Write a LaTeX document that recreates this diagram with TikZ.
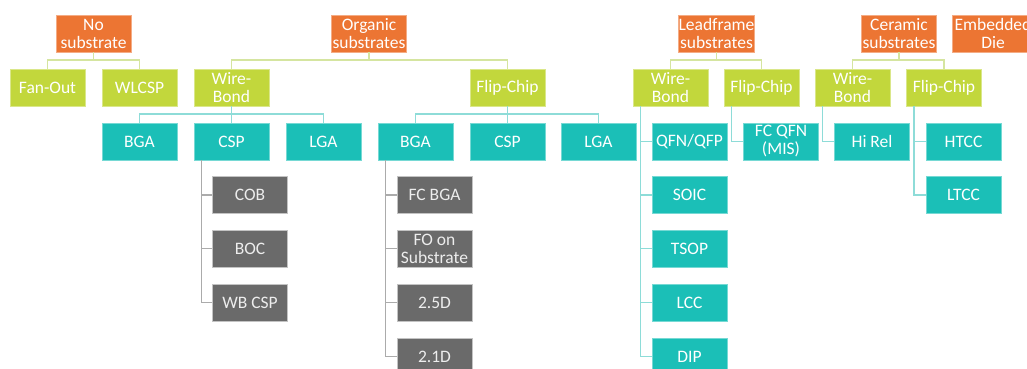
\documentclass[tikz,border=0pt]{standalone}
\usepackage{fontspec}
\setmainfont{Carlito}
\definecolor{orng}{HTML}{EC7533}
\definecolor{lime}{HTML}{C2D73C}
\definecolor{teal}{HTML}{1BBFB7}
\definecolor{dgray}{HTML}{6A6A6A}
\definecolor{limeline}{HTML}{D5E5A0}
\definecolor{tealline}{HTML}{8EDCD8}
\definecolor{grayline}{HTML}{ABABAB}
\tikzset{
  box/.style={minimum width=75pt, minimum height=37pt, inner sep=0pt, align=center,
    text=white, font=\fontsize{17.5}{18}\selectfont, line width=0.8pt},
  obox/.style={box, fill=orng, draw=orng!60!white},
  lbox/.style={box, fill=lime, draw=lime!60!white},
  tbox/.style={box, fill=teal, draw=teal!60!white},
  gbox/.style={box, fill=dgray, draw=dgray!40!white, text=white!93!black},
  lcon/.style={draw=limeline, line width=1.5pt},
  tcon/.style={draw=tealline, line width=1.5pt},
  gcon/.style={draw=grayline, line width=1.5pt},
}
\begin{document}
\begin{tikzpicture}[x=1pt,y=-1pt]
\clip (0,0) rectangle (1027,369);
\fill[white] (0,0) rectangle (1027,369);
% row 0
\node[obox] (nosub) at (93.5,33.5) {No\\substrate};
\node[obox] (org) at (369,33.5) {Organic\\substrates};
\node[obox] (lead) at (716.5,33.5) {Leadframe\\substrates};
\node[obox] (cer) at (899,33.5) {Ceramic\\substrates};
\node[obox, minimum width=82pt] (emb) at (993,33.5) {Embedded\\Die};
% row 1
\node[lbox] (fanout) at (47.5,87.5) {Fan-Out};
\node[lbox] (wlcsp) at (139.5,87.5) {WLCSP};
\node[lbox] (owb) at (231.5,87.5) {Wire-\\Bond};
\node[lbox] (ofc) at (507.5,87.5) {Flip-Chip};
\node[lbox] (lwb) at (670.5,87.5) {Wire-\\Bond};
\node[lbox] (lfc) at (761.5,87.5) {Flip-Chip};
\node[lbox] (cwb) at (852.5,87.5) {Wire-\\Bond};
\node[lbox] (cfc) at (944,87.5) {Flip-Chip};
% row 2
\node[tbox] (obga) at (139.5,141.5) {BGA};
\node[tbox] (ocsp) at (231.5,141.5) {CSP};
\node[tbox] (olga) at (323.5,141.5) {LGA};
\node[tbox] (fbga) at (415.5,141.5) {BGA};
\node[tbox] (fcsp) at (507.5,141.5) {CSP};
\node[tbox] (flga) at (598.5,141.5) {LGA};
\node[tbox] (qfn) at (689.5,141.5) {QFN/QFP};
\node[tbox] (fcqfn) at (781,141.5) {FC QFN\\(MIS)};
\node[tbox] (hirel) at (872,141.5) {Hi Rel};
\node[tbox] (htcc) at (963.5,141.5) {HTCC};
% row 3
\node[gbox] (cob) at (250,195) {COB};
\node[gbox] (fcbga) at (434.5,195) {FC BGA};
\node[tbox] (soic) at (689.5,195) {SOIC};
\node[tbox] (ltcc) at (963.5,195) {LTCC};
% row 4
\node[gbox] (boc) at (250,248.5) {BOC};
\node[gbox] (fosub) at (434.5,248.5) {FO on\\Substrate};
\node[tbox] (tsop) at (689.5,248.5) {TSOP};
% row 5
\node[gbox] (wbcsp) at (250,302.5) {WB CSP};
\node[gbox] (d25) at (434.5,302.5) {2.5D};
\node[tbox] (lcc) at (689.5,302.5) {LCC};
% row 6
\node[gbox] (d21) at (434.5,356.5) {2.1D};
\node[tbox] (dip) at (689.5,356.5) {DIP};
% lime connectors
\foreach \p/\c in {nosub/fanout,nosub/wlcsp,org/owb,org/ofc,lead/lwb,lead/lfc,cer/cwb,cer/cfc}
  \draw[lcon] (\p.south) -- ++(0,7.5) -| (\c.north);
% teal bus connectors
\foreach \p/\c in {owb/obga,owb/ocsp,owb/olga,ofc/fbga,ofc/fcsp,ofc/flga}
  \draw[tcon] (\p.south) -- ++(0,7.5) -| (\c.north);
% teal side connectors
\foreach \p/\c in {lwb/qfn,lwb/soic,lwb/tsop,lwb/lcc,lwb/dip,lfc/fcqfn,cwb/hirel,cfc/htcc,cfc/ltcc}
  \draw[tcon] ([xshift=8pt]\p.south west) |- (\c.west);
% gray side connectors
\foreach \p/\c in {ocsp/cob,ocsp/boc,ocsp/wbcsp,fbga/fcbga,fbga/fosub,fbga/d25,fbga/d21}
  \draw[gcon] ([xshift=8pt]\p.south west) |- (\c.west);
\end{tikzpicture}
\end{document}
